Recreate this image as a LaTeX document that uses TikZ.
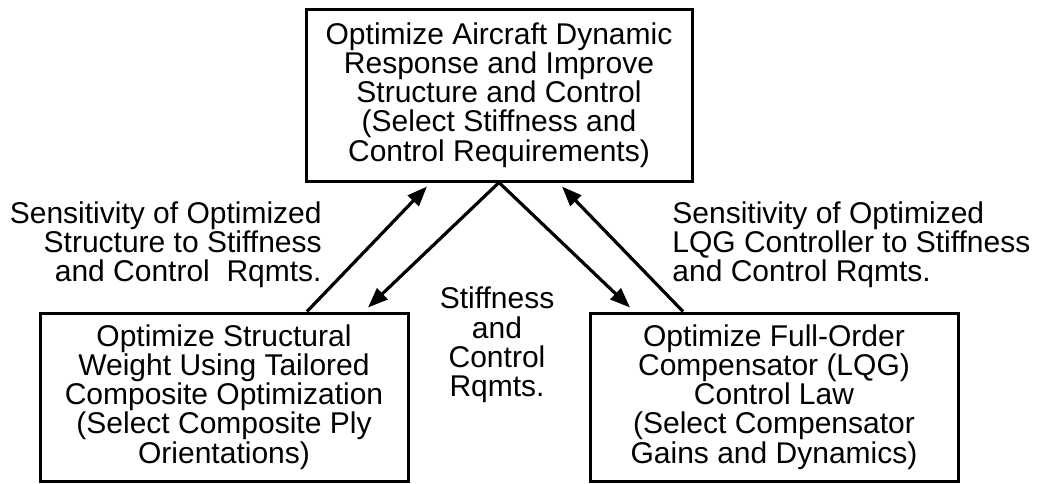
\documentclass[tikz,border=0pt]{standalone}
\usepackage{fontspec}
\setmainfont{Liberation Sans}
\usetikzlibrary{arrows.meta, positioning}

\begin{document}
\begin{tikzpicture}[
    x=0.5pt, y=-0.5pt,
    every node/.style={font=\fontsize{15}{14.6}\selectfont, inner sep=0pt},
    stage/.style={draw, line width=1.5pt, align=center, minimum height=84pt},
    note/.style={align=center},
    link/.style={line width=1.6pt, -{Triangle[length=10pt,width=7.5pt]}}]

    \useasboundingbox (0,0) rectangle (1037,483);

    \node[stage, minimum width=193pt, minimum height=86pt] (top) at (499,95)
        {Optimize Aircraft Dynamic\\ Response and Improve\\ Structure and Control\\
         (Select Stiffness and\\ Control Requirements)};
    \node[stage, minimum width=184pt] (struct) at (224,397)
        {Optimize Structural\\ Weight Using Tailored\\ Composite Optimization\\
         (Select Composite Ply\\ Orientations)};
    \node[stage, minimum width=184pt] (ctrl) at (774,397)
        {Optimize Full-Order\\ Compensator (LQG)\\ Control Law\\
         (Select Compensator\\ Gains and Dynamics)};

    \node[note, align=right, anchor=east] (sensL) at (322,245)
        {Sensitivity of Optimized\\ Structure to Stiffness\\ and Control~ Rqmts.};
    \node[note, align=left, anchor=west] (sensR) at (672,245)
        {Sensitivity of Optimized\\ LQG Controller to Stiffness\\ and Control Rqmts.};
    \node[note] (rqmts) at (497,345) {Stiffness\\ and\\ Control\\ Rqmts.};

    \draw[link] ([xshift=41.5pt]struct.north) -- ([xshift=-36pt,yshift=-2pt]top.south);
    \draw[link] (top.south) -- ([xshift=72pt,yshift=2pt]struct.north);
    \draw[link] (top.south) -- ([xshift=-72pt,yshift=2pt]ctrl.north);
    \draw[link] ([xshift=-45.5pt]ctrl.north) -- ([xshift=31.5pt,yshift=-2pt]top.south);

\end{tikzpicture}
\end{document}
